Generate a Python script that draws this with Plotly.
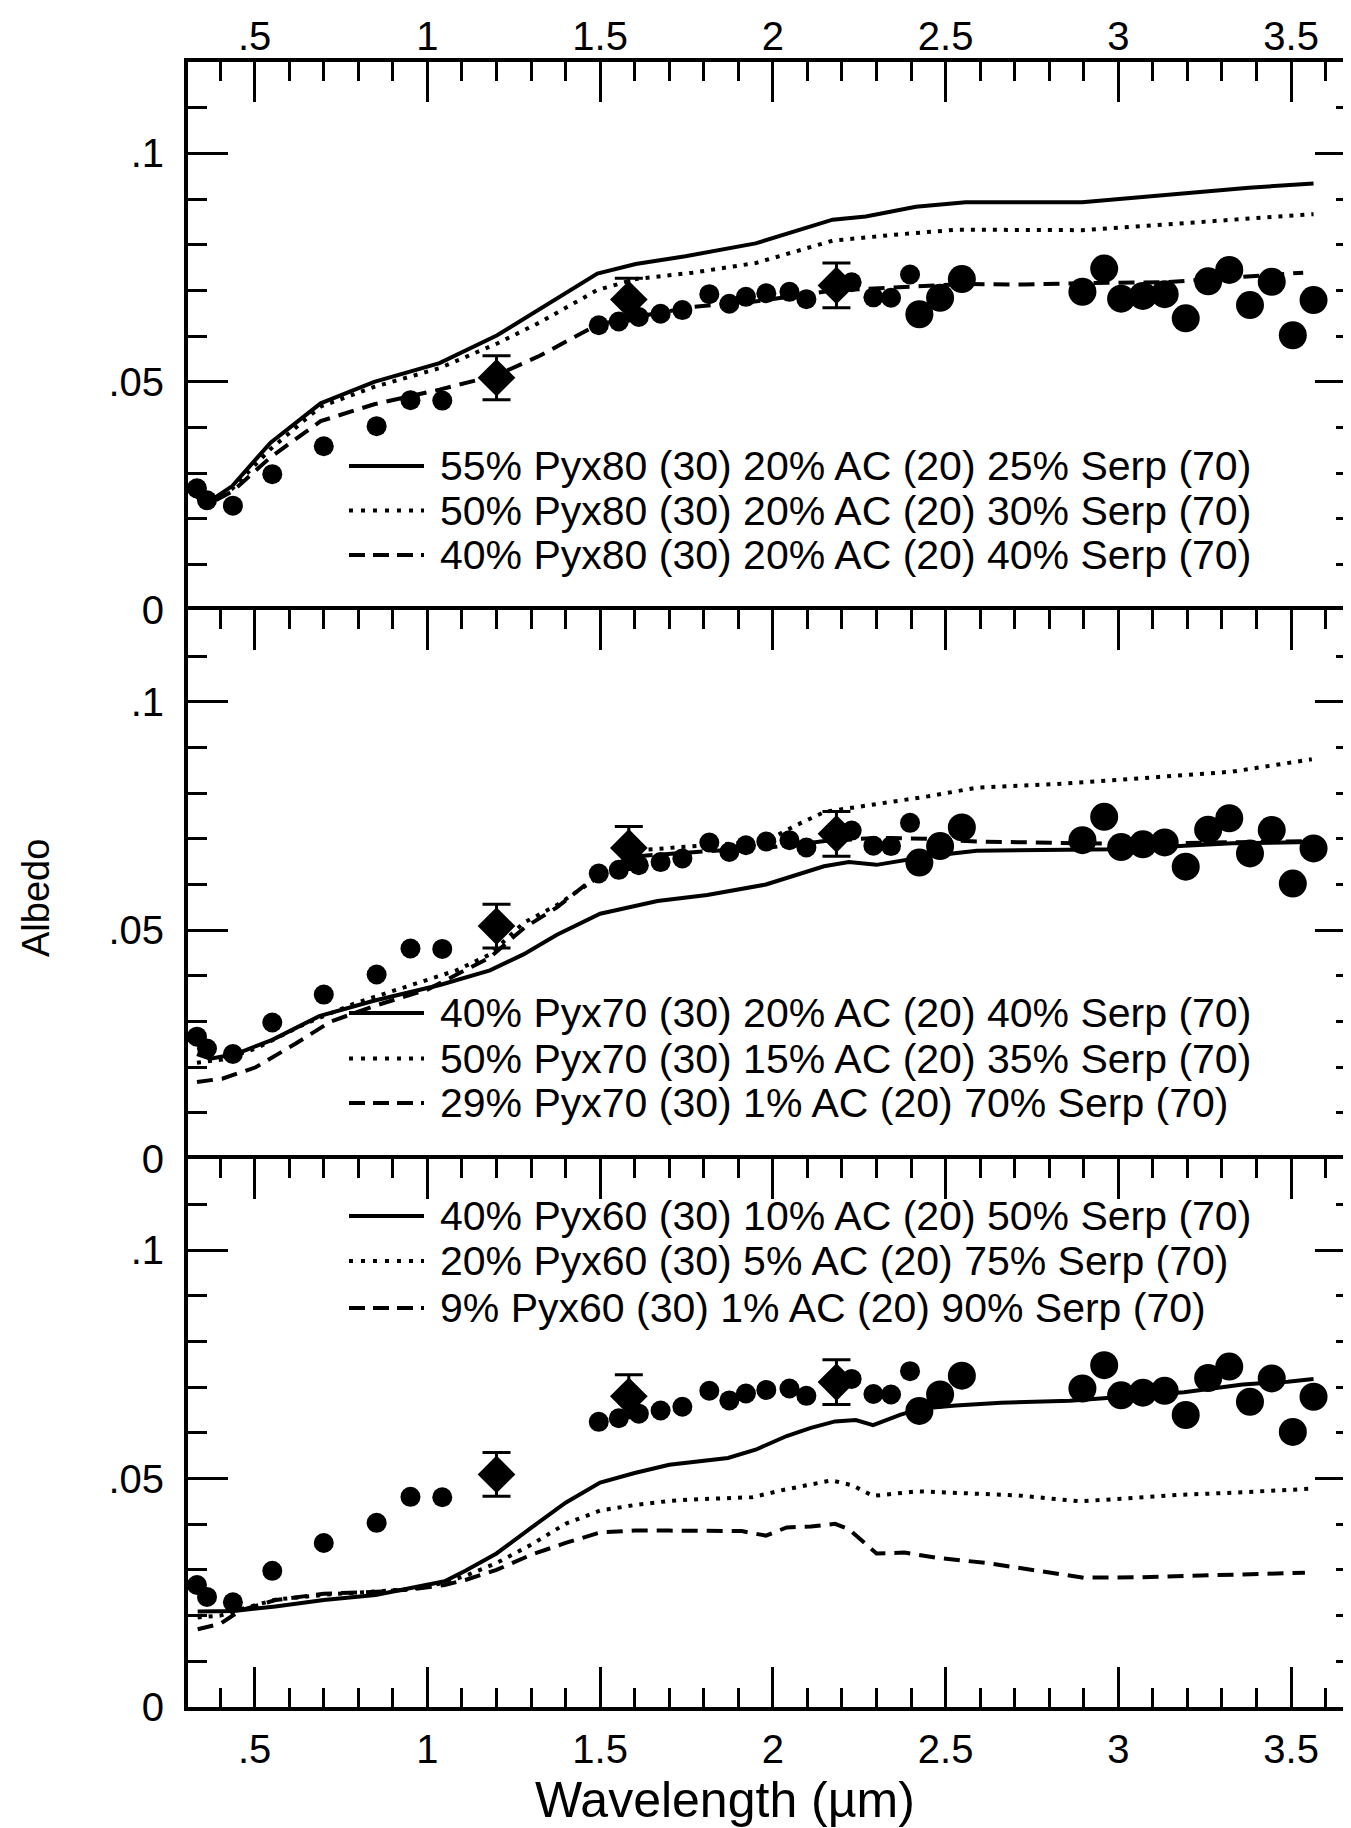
import plotly.graph_objects as go

# ---------------- data ----------------
# observed spectrum: small filled circles
obs_small_x = [0.333, 0.362, 0.437, 0.551, 0.700, 0.853, 0.951, 1.043, 1.496, 1.554, 1.612,
               1.675, 1.738, 1.816, 1.874, 1.922, 1.981, 2.048, 2.097, 2.228, 2.291, 2.342, 2.397]
obs_small_y = [0.0267, 0.0241, 0.0229, 0.0298, 0.0359, 0.0403, 0.0460, 0.0459, 0.0624, 0.0632, 0.0642,
               0.0649, 0.0657, 0.0692, 0.0671, 0.0686, 0.0694, 0.0697, 0.0681, 0.0718, 0.0685, 0.0684, 0.0735]
# observed spectrum: large filled circles (long wavelengths)
obs_large_x = [2.424, 2.484, 2.547, 2.896, 2.959, 3.008, 3.071, 3.134, 3.195, 3.260, 3.321,
               3.381, 3.444, 3.505, 3.565]
obs_large_y = [0.0648, 0.0684, 0.0725, 0.0697, 0.0748, 0.0682, 0.0688, 0.0692, 0.0639, 0.0720, 0.0745,
               0.0668, 0.0719, 0.0602, 0.0679]
# photometry (diamonds with error bars)
phot_x = [1.20, 1.583, 2.184]
phot_y = [0.0509, 0.0680, 0.0711]
phot_err = [0.0048, 0.0047, 0.0049]

# ---- panel 1 models (Pyx80)
p1_names = ["55% Pyx80 (30) 20% AC (20) 25% Serp (70)",
            "50% Pyx80 (30) 20% AC (20) 30% Serp (70)",
            "40% Pyx80 (30) 20% AC (20) 40% Serp (70)"]
p1_solid_x = [0.325, 0.360, 0.435, 0.546, 0.691, 0.846, 1.035, 1.202, 1.492, 1.603, 1.747, 1.950,
              2.173, 2.269, 2.414, 2.558, 2.895, 3.137, 3.378, 3.565]
p1_solid_y = [0.0258, 0.0234, 0.0272, 0.0367, 0.0453, 0.0500, 0.0541, 0.0602, 0.0737, 0.0758, 0.0775, 0.0803,
              0.0855, 0.0862, 0.0883, 0.0893, 0.0893, 0.0910, 0.0925, 0.0934]
p1_dot_x = [0.330, 0.360, 0.435, 0.546, 0.691, 0.846, 1.035, 1.202, 1.325, 1.492, 1.603, 1.768, 1.950,
            2.173, 2.352, 2.533, 2.895, 3.137, 3.378, 3.565]
p1_dot_y = [0.0255, 0.0232, 0.0266, 0.0353, 0.0446, 0.0489, 0.0530, 0.0584, 0.0630, 0.0701, 0.0725, 0.0739, 0.0760,
            0.0809, 0.0822, 0.0833, 0.0832, 0.0845, 0.0857, 0.0867]
p1_dash_x = [0.330, 0.360, 0.435, 0.546, 0.691, 0.846, 1.035, 1.202, 1.325, 1.492, 1.603, 1.768, 1.948,
             2.173, 2.414, 2.558, 2.727, 2.895, 3.137, 3.378, 3.535]
p1_dash_y = [0.0250, 0.0230, 0.0260, 0.0335, 0.0414, 0.0451, 0.0483, 0.0515, 0.0557, 0.0625, 0.0642, 0.0664, 0.0676,
             0.0700, 0.0709, 0.0714, 0.0713, 0.0716, 0.0718, 0.0732, 0.0739]

# ---- panel 2 models (Pyx70)
p2_names = ["40% Pyx70 (30) 20% AC (20) 40% Serp (70)",
            "50% Pyx70 (30) 15% AC (20) 35% Serp (70)",
            "29% Pyx70 (30) 1% AC (20) 70% Serp (70)"]
p2_solid_x = [0.333, 0.372, 0.445, 0.551, 0.687, 0.842, 1.036, 1.181, 1.278, 1.375, 1.500, 1.666, 1.810,
              1.980, 2.148, 2.220, 2.300, 2.450, 2.590, 3.000, 3.330, 3.560]
p2_solid_y = [0.0229, 0.0219, 0.0229, 0.0260, 0.0312, 0.0345, 0.0380, 0.0412, 0.0447, 0.0490, 0.0536, 0.0564, 0.0577,
              0.0600, 0.0640, 0.0649, 0.0643, 0.0662, 0.0674, 0.0677, 0.0690, 0.0693]
p2_dot_x = [0.333, 0.406, 0.503, 0.648, 0.794, 0.939, 1.084, 1.181, 1.278, 1.375, 1.472, 1.610, 1.810,
            1.980, 2.060, 2.150, 2.300, 2.450, 2.590, 2.820, 3.000, 3.330, 3.560]
p2_dot_y = [0.0210, 0.0217, 0.0241, 0.0296, 0.0341, 0.0376, 0.0412, 0.0447, 0.0516, 0.0555, 0.0605, 0.0675, 0.0686,
            0.0695, 0.0727, 0.0759, 0.0776, 0.0793, 0.0812, 0.0820, 0.0829, 0.0847, 0.0874]
p2_dash_x = [0.333, 0.406, 0.503, 0.619, 0.720, 0.850, 1.000, 1.180, 1.280, 1.375, 1.500, 1.610, 1.810,
             1.980, 2.150, 2.300, 2.450, 2.590, 3.000, 3.330, 3.560]
p2_dash_y = [0.0168, 0.0175, 0.0200, 0.0252, 0.0300, 0.0335, 0.0370, 0.0440, 0.0505, 0.0550, 0.0625, 0.0662, 0.0673,
             0.0680, 0.0695, 0.0702, 0.0700, 0.0694, 0.0689, 0.0692, 0.0695]

# ---- panel 3 models (Pyx60)
p3_names = ["40% Pyx60 (30) 10% AC (20) 50% Serp (70)",
            "20% Pyx60 (30) 5% AC (20) 75% Serp (70)",
            "9% Pyx60 (30) 1% AC (20) 90% Serp (70)"]
p3_solid_x = [0.335, 0.440, 0.560, 0.700, 0.850, 0.950, 1.050, 1.110, 1.200, 1.300, 1.400, 1.500, 1.600,
              1.700, 1.790, 1.870, 1.950, 2.040, 2.110, 2.180, 2.240, 2.290, 2.370, 2.430, 2.530, 2.660,
              2.860, 3.190, 3.360, 3.490, 3.565]
p3_solid_y = [0.0209, 0.0210, 0.0220, 0.0234, 0.0245, 0.0259, 0.0275, 0.0298, 0.0336, 0.0392, 0.0447, 0.0491, 0.0512,
              0.0530, 0.0538, 0.0545, 0.0563, 0.0593, 0.0611, 0.0625, 0.0628, 0.0617, 0.0640, 0.0653, 0.0660, 0.0666,
              0.0670, 0.0689, 0.0706, 0.0712, 0.0718]
p3_dot_x = [0.335, 0.400, 0.460, 0.560, 0.710, 0.850, 0.950, 1.050, 1.110, 1.200, 1.300, 1.400, 1.500,
            1.600, 1.700, 1.790, 1.940, 2.030, 2.170, 2.230, 2.290, 2.420, 2.570, 2.710, 2.890, 3.170,
            3.360, 3.565]
p3_dot_y = [0.0196, 0.0200, 0.0214, 0.0235, 0.0246, 0.0252, 0.0258, 0.0272, 0.0287, 0.0315, 0.0355, 0.0401, 0.0430,
            0.0442, 0.0451, 0.0455, 0.0459, 0.0475, 0.0496, 0.0485, 0.0462, 0.0472, 0.0467, 0.0463, 0.0450, 0.0464,
            0.0470, 0.0478]
p3_dash_x = [0.335, 0.400, 0.460, 0.560, 0.700, 0.850, 0.950, 1.050, 1.110, 1.200, 1.300, 1.400, 1.500,
             1.600, 1.700, 1.790, 1.910, 1.980, 2.040, 2.110, 2.180, 2.220, 2.300, 2.380, 2.470, 2.620,
             2.760, 2.900, 3.070, 3.260, 3.540]
p3_dash_y = [0.0170, 0.0182, 0.0212, 0.0234, 0.0248, 0.0252, 0.0257, 0.0267, 0.0278, 0.0300, 0.0333, 0.0359, 0.0382,
             0.0386, 0.0386, 0.0385, 0.0385, 0.0375, 0.0393, 0.0395, 0.0401, 0.0389, 0.0336, 0.0338, 0.0327, 0.0315,
             0.0298, 0.0283, 0.0284, 0.0288, 0.0294]

x_tickvals = [0.5, 1.0, 1.5, 2.0, 2.5, 3.0, 3.5]
x_ticktext = [".5", "1", "1.5", "2", "2.5", "3", "3.5"]
y_tickvals = [0.0, 0.05, 0.1]
y_ticktext = ["0", ".05", ".1"]

# ---------------- figure ----------------
W, H = 1351, 1828
ML, MR, MT, MB = 180, 4, 54, 129
PW = W - ML - MR
PH = H - MT - MB
panel_h = PH / 3.0
FONT = "Liberation Sans, Arial, Helvetica, sans-serif"

panels = [
    (p1_names, (p1_solid_x, p1_solid_y), (p1_dot_x, p1_dot_y), (p1_dash_x, p1_dash_y)),
    (p2_names, (p2_solid_x, p2_solid_y), (p2_dot_x, p2_dot_y), (p2_dash_x, p2_dash_y)),
    (p3_names, (p3_solid_x, p3_solid_y), (p3_dot_x, p3_dot_y), (p3_dash_x, p3_dash_y)),
]
dash_styles = ["solid", "4px,7px", "16px,9px"]
LW = 4

fig = go.Figure()
for i, (names, *curves) in enumerate(panels):
    xa = "x" if i == 0 else f"x{i+1}"
    ya = "y" if i == 0 else f"y{i+1}"
    for (cx, cy), dsh, nm in zip(curves, dash_styles, names):
        fig.add_trace(go.Scatter(x=cx, y=cy, mode="lines", name=nm,
                                 line=dict(color="black", width=LW, dash=dsh),
                                 xaxis=xa, yaxis=ya, showlegend=False))
    fig.add_trace(go.Scatter(x=obs_small_x, y=obs_small_y, mode="markers", name="Observed",
                             marker=dict(symbol="circle", size=20, color="black"),
                             xaxis=xa, yaxis=ya, showlegend=False))
    fig.add_trace(go.Scatter(x=obs_large_x, y=obs_large_y, mode="markers", name="Observed",
                             marker=dict(symbol="circle", size=28, color="black"),
                             xaxis=xa, yaxis=ya, showlegend=False))
    fig.add_trace(go.Scatter(x=phot_x, y=phot_y, mode="markers", name="Photometry",
                             marker=dict(symbol="diamond", size=29, color="black"),
                             error_y=dict(type="data", array=phot_err, visible=True,
                                          color="black", thickness=3, width=14),
                             xaxis=xa, yaxis=ya, showlegend=False))

axis_common = dict(showline=True, linewidth=4, linecolor="black", showgrid=False, zeroline=False,
                   ticks="inside", ticklen=40, tickwidth=3, tickcolor="black",
                   tickfont=dict(family=FONT, size=40, color="black"))
xcommon = dict(axis_common, range=[0.307, 3.685], tickvals=x_tickvals, ticktext=x_ticktext,
               minor=dict(dtick=0.1, tick0=0, ticks="inside", ticklen=19, tickwidth=3, tickcolor="black"))
ycommon = dict(axis_common, range=[0, 0.12], tickvals=y_tickvals, ticktext=y_ticktext,
               mirror="ticks", ticklabelstandoff=12,
               minor=dict(dtick=0.01, tick0=0, ticks="inside", ticklen=19, tickwidth=3, tickcolor="black"))

domains = [[2 / 3, 1.0], [1 / 3, 2 / 3], [0.0, 1 / 3]]
layout = dict(width=W, height=H, margin=dict(l=ML, r=MR, t=MT, b=MB, autoexpand=False),
              plot_bgcolor="white", paper_bgcolor="white", showlegend=False,
              font=dict(family=FONT, color="black"))
layout["xaxis"] = dict(xcommon, anchor="y", side="top", mirror=False, showticklabels=True,
                       ticklabelstandoff=-8)
layout["xaxis2"] = dict(xcommon, anchor="y2", side="top", mirror=False, showticklabels=False)
layout["xaxis3"] = dict(xcommon, anchor="y3", side="bottom", mirror="ticks", showticklabels=True,
                        ticklabelstandoff=4)
layout["yaxis"] = dict(ycommon, anchor="x", domain=domains[0])
layout["yaxis2"] = dict(ycommon, anchor="x2", domain=domains[1])
layout["yaxis3"] = dict(ycommon, anchor="x3", domain=domains[2])
fig.update_layout(**layout)

# ---------------- in-panel legends (text + line samples) ----------------
legend_rows_px = [[458, 502.5, 547], [1005, 1050.5, 1095], [1208, 1253, 1300]]
sample_x0_px, sample_x1_px, text_x_px = 341, 416, 430
shape_dash = ["solid", "4px,8px", "16px,8px"]
for i, (names, *_c) in enumerate(panels):
    yref = "y domain" if i == 0 else f"y{i+1} domain"
    bottom_px = MT + (i + 1) * panel_h
    for j, nm in enumerate(names):
        yd = (bottom_px - legend_rows_px[i][j]) / panel_h
        fig.add_shape(type="line", xref="paper", yref=yref,
                      x0=(sample_x0_px - ML) / PW, x1=(sample_x1_px - ML) / PW, y0=yd, y1=yd,
                      line=dict(color="black", width=LW, dash=shape_dash[j]))
        fig.add_annotation(text=nm, xref="paper", yref=yref, x=(text_x_px - ML) / PW, y=yd,
                           xanchor="left", yanchor="middle", showarrow=False,
                           font=dict(family=FONT, size=41, color="black"))

# axis titles
fig.add_annotation(text="Albedo", xref="paper", yref="y2 domain", x=(28 - ML) / PW,
                   y=(MT + 2 * panel_h - 890) / panel_h, textangle=-90, showarrow=False,
                   xanchor="center", yanchor="middle", font=dict(family=FONT, size=38, color="black"))
fig.add_annotation(text="Wavelength (\u00b5m)", xref="paper", yref="paper", x=(717 - ML) / PW,
                   y=(H - MB - 1792) / PH, showarrow=False, xanchor="center", yanchor="middle",
                   font=dict(family=FONT, size=50, color="black"))

fig.write_html("out.html")
